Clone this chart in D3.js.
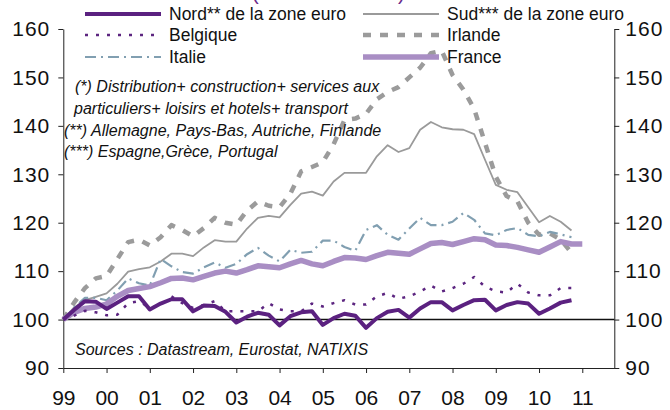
<!DOCTYPE html>
<html>
<head>
<meta charset="utf-8">
<script src="https://cdn.jsdelivr.net/npm/d3@7"></script>
<style>
  body { margin: 0; background: #fff; }
  text { font-family: "Liberation Sans", Arial, sans-serif; }
</style>
</head>
<body>
<div id="chart"></div>
<script>
// Quarterly index, 1999 Q1 = 100
var startYear = 1999;
var yearTicks = [1999, 2000, 2001, 2002, 2003, 2004, 2005, 2006, 2007, 2008, 2009, 2010, 2011];
var yTicks = [90, 100, 110, 120, 130, 140, 150, 160];

var nord = [100, 102.0, 103.8, 103.7, 102.2, 103.5, 104.8, 104.8, 102.1, 103.3, 104.2, 104.2,
    101.7, 102.9, 102.8, 101.6, 99.4, 100.6, 101.4, 101.0, 98.8, 100.7, 101.5, 101.7,
    98.9, 100.3, 101.2, 100.8, 98.3, 100.3, 101.6, 102.0, 100.4, 102.3, 103.6, 103.6,
    101.9, 103.0, 104.0, 104.1, 101.9, 103.0, 103.6, 103.3, 101.2, 102.3, 103.5, 104.0];

var sud = [100, 102.5, 104.0, 104.7, 105.4, 107.4, 109.9, 110.4, 110.8, 112.0, 113.6, 113.6,
    113.1, 114.9, 116.4, 116.1, 116.1, 118.8, 121.0, 121.4, 121.1, 123.7, 126.0, 126.4,
    125.6, 128.5, 130.3, 130.3, 130.3, 133.7, 136.0, 134.6, 135.4, 139.2, 140.8, 139.7,
    139.3, 139.2, 138.3, 133.0, 127.8, 126.8, 126.3, 123.2, 120.1, 121.4, 120.2, 118.4];

var belgique = [100, 100.8, 101.8, 101.5, 100.9, 101.0, 103.4, 103.8, 102.4, 103.0, 104.8, 103.4,
    102.4, 103.0, 103.8, 101.7, 101.7, 101.7, 101.7, 103.4, 102.1, 101.7, 101.7, 103.3,
    102.7, 103.4, 104.0, 103.1, 103.1, 104.8, 105.5, 104.3, 104.8, 105.8, 107.0, 105.8,
    106.5, 107.4, 108.8, 106.8, 105.8, 105.6, 107.4, 105.6, 105.0, 105.0, 106.5, 106.5];

var irlande = [100, 103.5, 106.5, 108.5, 109.0, 112.5, 116.0, 116.5, 115.3, 117.0, 119.5, 118.5,
    117.2, 118.9, 121.0, 120.0, 119.6, 122.5, 124.4, 123.5, 123.2, 126.0, 130.6, 131.5,
    132.5, 136.2, 141.2, 141.5, 142.5, 145.5, 147.0, 148.0, 150.0, 152.0, 155.0, 155.5,
    150.5, 147.5, 143.5, 136.5, 129.5, 125.5, 124.4, 120.0, 117.5, 117.8, 116.5, 113.8];

var italie = [100, 102.5, 104.5, 104.5, 104.0, 106.0, 108.5, 107.5, 107.0, 112.5, 111.0, 109.8,
    109.5, 110.8, 111.8, 110.7, 111.5, 113.5, 114.8, 113.2, 112.0, 114.4, 113.8, 114.0,
    116.3, 116.3, 115.0, 114.2, 118.5, 119.5, 117.5, 116.5, 118.8, 121.0, 119.5, 119.5,
    120.2, 122.0, 120.6, 117.8, 117.4, 118.5, 118.9, 117.5, 117.2, 118.1, 117.6, 117.0];

var france = [100, 101.5, 102.3, 102.6, 103.2, 104.8, 106.0, 106.4, 106.8, 107.6, 108.5, 108.6,
    108.2, 108.9, 109.6, 110.0, 109.6, 110.3, 111.1, 110.9, 110.7, 111.5, 112.2, 111.5,
    111.1, 112.0, 112.8, 112.7, 112.4, 113.2, 113.9, 113.7, 113.5, 114.6, 115.7, 115.9,
    115.5, 116.1, 116.7, 116.5, 115.4, 115.3, 114.9, 114.4, 113.9, 115.0, 116.1, 115.6, 115.6];

var notes = [
    "(*) Distribution+ construction+ services aux",
    "particuliers+ loisirs et hotels+ transport",
    "(**) Allemagne, Pays-Bas, Autriche, Finlande",
    "(***) Espagne,Grèce, Portugal"
];
var sourceText = "Sources : Datastream, Eurostat, NATIXIS";

// SVG canvas
var svgWidth = 670;
var svgHeight = 410;

var svg = d3.select("#chart").append("svg")
    .attr("width", svgWidth)
    .attr("height", svgHeight);

// Scales
var xScale = d3.scaleLinear()
    .domain([1999, 2011.74])
    .range([63.3, 614.3]);

var yScale = d3.scaleLinear()
    .domain([90, 160])
    .range([368, 29]);

// Axes
var bottomAxis = d3.axisBottom(xScale)
    .tickValues(yearTicks)
    .tickSize(5)
    .tickSizeOuter(0)
    .tickPadding(17)
    .tickFormat(d => String(d).slice(2));

var leftAxis = d3.axisLeft(yScale)
    .tickValues(yTicks)
    .tickSize(5)
    .tickSizeOuter(0)
    .tickPadding(8);

var rightAxis = d3.axisRight(yScale)
    .tickValues(yTicks)
    .tickSize(5)
    .tickSizeOuter(0)
    .tickPadding(6);

var gx = svg.append("g")
    .attr("transform", `translate(0, ${yScale(90)})`)
    .call(bottomAxis);

var gl = svg.append("g")
    .attr("transform", `translate(${xScale(1999)}, 0)`)
    .call(leftAxis);

var gr = svg.append("g")
    .attr("transform", `translate(${xScale.range()[1]}, 0)`)
    .call(rightAxis);

[gx, gl, gr].forEach(function (g) {
    g.selectAll("path, line").attr("stroke", "#222").attr("stroke-width", 1);
    g.selectAll("text")
        .style("font-size", "21px")
        .style("font-family", "'Liberation Sans', Arial, sans-serif")
        .attr("fill", "#111");
});
gl.selectAll("text").style("letter-spacing", "1px");
gr.selectAll("text").style("letter-spacing", "1px");

// base 100 line
svg.append("line")
    .attr("x1", xScale.range()[0])
    .attr("x2", xScale.range()[1])
    .attr("y1", yScale(100))
    .attr("y2", yScale(100))
    .attr("stroke", "#111")
    .attr("stroke-width", 1.5);

// Series styles
var series = [
    { name: "Sud*** de la zone euro", values: sud, color: "#9a9a9a", width: 1.8, dash: null },
    { name: "Irlande", values: irlande, color: "#9b9b9b", width: 4.5, dash: "8,9" },
    { name: "Italie", values: italie, color: "#819fb1", width: 2.2, dash: "11,5,2,5" },
    { name: "France", values: france, color: "#a98ec4", width: 5.5, dash: null },
    { name: "Belgique", values: belgique, color: "#5c2580", width: 2.5, dash: "3,8" },
    { name: "Nord** de la zone euro", values: nord, color: "#5b2180", width: 4, dash: null }
];

var line = d3.line()
    .x((d, i) => xScale(startYear + i / 4))
    .y(d => yScale(d));

series.forEach(function (s) {
    svg.append("path")
        .datum(s.values)
        .attr("d", line)
        .attr("fill", "none")
        .attr("stroke", s.color)
        .attr("stroke-width", s.width)
        .attr("stroke-linejoin", "round")
        .attr("stroke-dasharray", s.dash);
});

// Legend (two columns, three rows)
var legendItems = [
    { s: series[5], x: 85, y: 14 },
    { s: series[0], x: 363, y: 14 },
    { s: series[4], x: 85, y: 35 },
    { s: series[1], x: 363, y: 35 },
    { s: series[2], x: 85, y: 57 },
    { s: series[3], x: 363, y: 57 }
];

legendItems.forEach(function (item) {
    svg.append("line")
        .attr("x1", item.x)
        .attr("x2", item.x + 76)
        .attr("y1", item.y)
        .attr("y2", item.y)
        .attr("stroke", item.s.color)
        .attr("stroke-width", item.s.width)
        .attr("stroke-dasharray", item.s.dash);
    svg.append("text")
        .attr("x", item.x + 84)
        .attr("y", item.y + 6)
        .style("font-size", "17.5px")
        .attr("fill", "#111")
        .text(item.s.name);
});

// cut-off title at the very top
svg.append("text").attr("x", 252).attr("y", 0).style("font-size", "20px")
    .attr("fill", "#6a2a8a").text("(");
svg.append("text").attr("x", 398).attr("y", 0).style("font-size", "20px")
    .attr("fill", "#6a2a8a").text(")");

// footnotes
var noteX = [75, 74, 64, 64];
var noteY = [92, 114, 136, 157];
notes.forEach(function (n, i) {
    svg.append("text")
        .attr("x", noteX[i])
        .attr("y", noteY[i])
        .style("font-size", "16px")
        .style("font-style", "italic")
        .attr("fill", "#111")
        .text(n);
});

svg.append("text")
    .attr("x", 75)
    .attr("y", 355)
    .style("font-size", "16px")
    .style("font-style", "italic")
    .attr("fill", "#111")
    .text(sourceText);
</script>
</body>
</html>
